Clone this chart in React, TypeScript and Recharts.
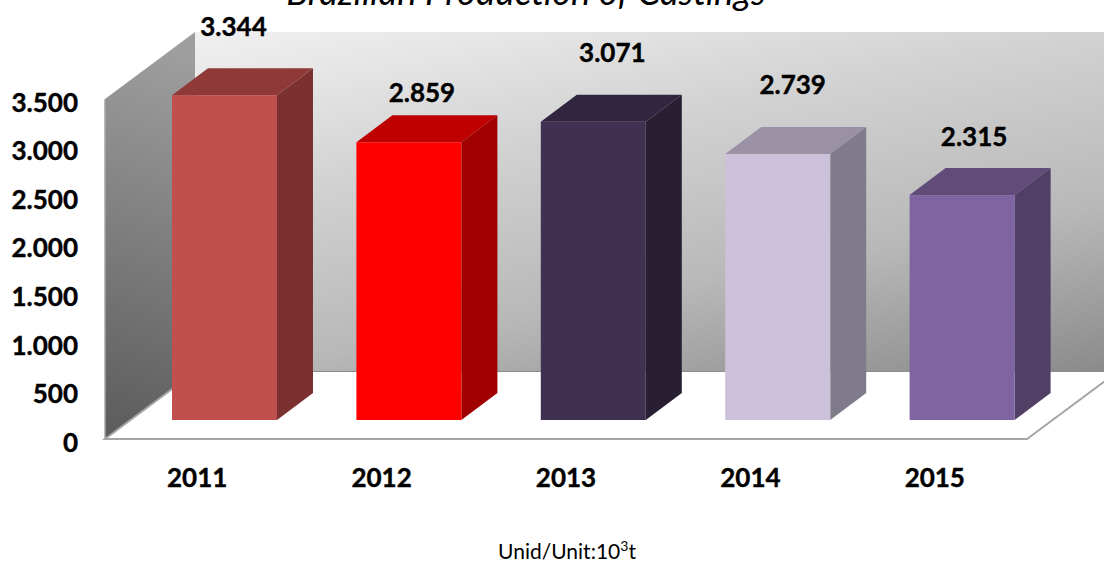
import React from 'react';
import { BarChart, Bar, XAxis, YAxis, LabelList, Customized } from 'recharts';

const years = ['2011', '2012', '2013', '2014', '2015'];
const production = [3344, 2859, 3071, 2739, 2315];
const yTicks = [0, 500, 1000, 1500, 2000, 2500, 3000, 3500];

// front, top and side face of each column
const frontColors = ['#C0504D', '#FF0000', '#403152', '#CCC1DA', '#8064A2'];
const topColors = ['#8F3A39', '#BF0000', '#32253F', '#9B91A5', '#604B79'];
const sideColors = ['#7A3130', '#A00000', '#281F33', '#807B8A', '#523F66'];

// hand placed data label offsets, as in the original
const labelDx = [9, 13, 19, 15, 12];
const labelDy = [-69, -50, -70, -70, -59];

const FONT = 'Lato, "Open Sans", sans-serif';
const WIDTH = 1104;
const HEIGHT = 562;
const PLOT_LEFT = 105;
const PLOT_TOP = 99;
const PLOT_BOTTOM = 439;
const PLOT_RIGHT = 1027;

// 3D projection of the chart box and columns
const WALL_DX = 90;
const WALL_DY = 67;
const BAR_SHIFT_X = 27;
const BAR_SHIFT_Y = -19;
const BAR_DX = 36;
const BAR_DY = 27;

const chartData = years.map((year, i) => ({ year, value: production[i] }));

const formatThousands = (v: number) => {
  const s = String(v);
  return s.length > 3 ? `${s.slice(0, -3)}.${s.slice(-3)}` : s;
};

const boldText = { fill: '#000', stroke: '#000', strokeWidth: 0.4, fontFamily: FONT, fontWeight: 700, fontSize: 26 };

const Box3D = () => {
  const backX = PLOT_LEFT + WALL_DX;
  const backTop = PLOT_TOP - WALL_DY;
  const backBottom = PLOT_BOTTOM - WALL_DY;
  return (
    <g>
      <defs>
        <linearGradient id="backWall" gradientUnits="userSpaceOnUse" x1="195" y1="32" x2="294" y2="542">
          <stop offset="0" stopColor="#F0F0F0" />
          <stop offset="0.12" stopColor="#E6E6E6" />
          <stop offset="0.33" stopColor="#D2D2D2" />
          <stop offset="0.66" stopColor="#B8B8B8" />
          <stop offset="0.98" stopColor="#8A8A8A" />
        </linearGradient>
        <linearGradient id="sideWall" gradientUnits="userSpaceOnUse" x1="195" y1="60" x2="70" y2="440">
          <stop offset="0" stopColor="#9E9E9E" />
          <stop offset="1" stopColor="#595959" />
        </linearGradient>
      </defs>
      <text x={526} y={5} textAnchor="middle" fontFamily={FONT} fontStyle="italic" fontSize={36.5} fill="#000">
        Brazilian Production of Castings
      </text>
      <polygon points={`${backX},${backTop} ${WIDTH},${backTop} ${WIDTH},${backBottom} ${backX},${backBottom}`} fill="url(#backWall)" />
      <polygon
        points={`${PLOT_LEFT},${PLOT_TOP} ${backX},${backTop} ${backX},${backBottom} ${PLOT_LEFT},${PLOT_BOTTOM}`}
        fill="url(#sideWall)"
      />
      <line x1={PLOT_LEFT} y1={PLOT_TOP} x2={PLOT_LEFT} y2={PLOT_BOTTOM} stroke="#A6A6A6" strokeWidth={1.5} />
      <line x1={backX} y1={backBottom} x2={WIDTH} y2={backBottom} stroke="#8C8C8C" strokeWidth={2} />
      <polyline
        points={`${backX},${backBottom} ${PLOT_LEFT},${PLOT_BOTTOM} ${PLOT_RIGHT},${PLOT_BOTTOM} ${PLOT_RIGHT + WALL_DX},${backBottom}`}
        fill="#FFF"
        stroke="#A6A6A6"
        strokeWidth={2}
      />
      <text x={567} y={559} textAnchor="middle" fontFamily={FONT} fontSize={21} fill="#000">
        Unid/Unit:10
        <tspan fontSize={14} dy={-8}>3</tspan>
        <tspan dy={8}>t</tspan>
      </text>
    </g>
  );
};

const Column3D = (props: any) => {
  const { x, y, width, height, index } = props;
  const left = x + BAR_SHIFT_X;
  const top = y + BAR_SHIFT_Y;
  const right = left + width;
  const bottom = top + height;
  return (
    <g>
      <polygon
        points={`${left},${top} ${left + BAR_DX},${top - BAR_DY} ${right + BAR_DX},${top - BAR_DY} ${right},${top}`}
        fill={topColors[index]}
      />
      <polygon
        points={`${right},${top} ${right + BAR_DX},${top - BAR_DY} ${right + BAR_DX},${bottom - BAR_DY} ${right},${bottom}`}
        fill={sideColors[index]}
      />
      <rect x={left} y={top} width={width} height={height} fill={frontColors[index]} />
    </g>
  );
};

const BarValue = (props: any) => {
  const { x, y, width, value, index } = props;
  return (
    <text
      x={x + BAR_SHIFT_X + width / 2 + labelDx[index]}
      y={y + BAR_SHIFT_Y + labelDy[index]}
      textAnchor="middle"
      dominantBaseline="central"
      {...boldText}
    >
      {formatThousands(value)}
    </text>
  );
};

const App = () => (
  <div style={{ position: 'absolute', left: 0, top: 0, width: WIDTH, height: HEIGHT, background: '#fff', overflow: 'hidden' }}>
    <BarChart
      width={WIDTH}
      height={HEIGHT}
      data={chartData}
      margin={{ top: PLOT_TOP, right: WIDTH - PLOT_RIGHT, bottom: HEIGHT - PLOT_BOTTOM - 70, left: 0 }}
    >
      <Customized component={Box3D} />
      <XAxis dataKey="year" height={70} axisLine={false} tickLine={false} tickMargin={24} tick={boldText} />
      <YAxis
        width={PLOT_LEFT}
        domain={[0, 3500]}
        ticks={yTicks}
        interval={0}
        axisLine={false}
        tickLine={false}
        tickMargin={21}
        tickFormatter={formatThousands}
        tick={{ ...boldText, dy: 3.5 }}
      />
      <Bar dataKey="value" barSize={105} shape={Column3D} isAnimationActive={false}>
        <LabelList dataKey="value" content={BarValue} />
      </Bar>
    </BarChart>
  </div>
);

export default App;
